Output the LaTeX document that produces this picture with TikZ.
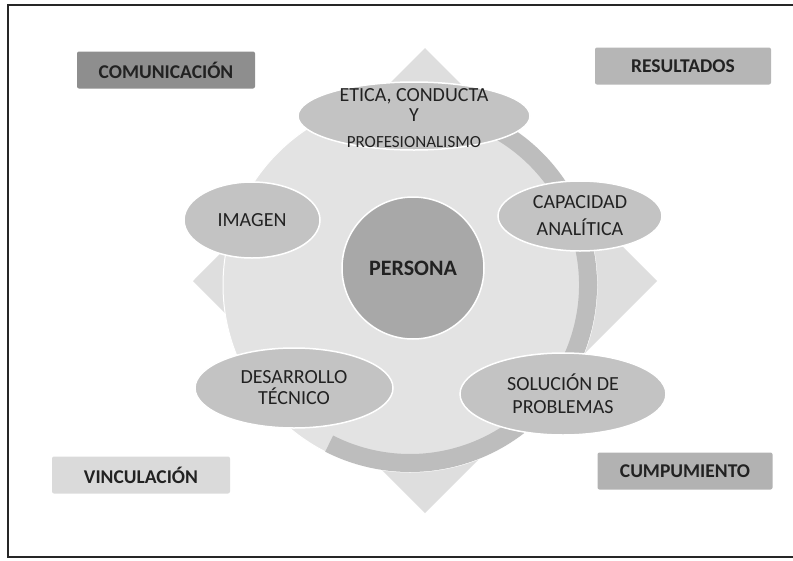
\documentclass[tikz,border=0pt]{standalone}
\usepackage{fontspec}
\setmainfont{Carlito}
\usetikzlibrary{shapes.geometric}
\definecolor{txt}{HTML}{222222}
\definecolor{diam}{HTML}{DEDEDE}
\definecolor{ringband}{HTML}{BDBDBD}
\definecolor{ringdisk}{HTML}{E3E3E3}
\definecolor{ellfill}{HTML}{C3C3C3}
\definecolor{perfill}{HTML}{A8A8A8}
\definecolor{boxA}{HTML}{8E8E8E}
\definecolor{boxB}{HTML}{B6B6B6}
\definecolor{boxC}{HTML}{DADADA}
\definecolor{boxD}{HTML}{B2B2B2}
\tikzset{
  oval/.style={ellipse, fill=ellfill, draw=white, line width=1.5pt, inner sep=0pt, text=txt},
  lbl/.style={text=txt, inner sep=0pt, font=\fontsize{20}{22}\selectfont},
  tag/.style={rectangle, rounded corners=2pt, minimum height=37pt, inner sep=0pt, text=txt, font=\bfseries\fontsize{19.5}{22}\selectfont},
}
\begin{document}
\begin{tikzpicture}[x=1pt,y=-1pt]
\useasboundingbox (0,0) rectangle (793,560);
% frame
\draw[line width=1.8pt, color=black!85] (800,5) -- (8,5) -- (8,557) -- (800,557);
% diamond background
\fill[diam] (425,48) -- (657,281) -- (425,513) -- (193,281) -- cycle;
% ring disk
\node[circle, minimum size=374pt, inner sep=0pt, fill=ringdisk, draw=white, line width=1pt] (ring) at (410,285) {};
% visible part of the ring band (canvas angles, counter-clockwise)
\draw[ringband, line width=18pt] ([shift={(75:178pt)}]ring.center) arc[start angle=75, end angle=-117, radius=178pt];
% center circle
\node[circle, minimum size=142pt, inner sep=0pt, fill=perfill, draw=white, line width=1.5pt, text=txt, font=\bfseries\fontsize{22}{24}\selectfont] (persona) at (413,268) {PERSONA};
% ellipses
\node[oval, minimum width=232pt, minimum height=68pt] (etica) at (414,116) {};
\node[lbl] (etica1) at (414,96) {ETICA, CONDUCTA};
\node[lbl] (etica2) at (414,115) {Y};
\node[lbl, font=\fontsize{17}{19}\selectfont] (etica3) at (414,142) {PROFESIONALISMO};
\node[oval, minimum width=136pt, minimum height=76pt, font=\fontsize{20}{22}\selectfont] (imagen) at (252,220) {IMAGEN};
\node[oval, minimum width=164pt, minimum height=70pt, align=center, font=\fontsize{20}{27}\selectfont] (capacidad) at (580,216) {CAPACIDAD\\ANALÍTICA};
\node[oval, minimum width=198pt, minimum height=80pt, align=center, font=\fontsize{20}{21}\selectfont] (desarrollo) at (294,388) {DESARROLLO\\TÉCNICO};
\node[oval, minimum width=206pt, minimum height=82pt, align=center, font=\fontsize{20}{23}\selectfont] (solucion) at (563,394) {SOLUCIÓN DE\\PROBLEMAS};
% corner tags
\node[tag, fill=boxA, minimum width=178pt] (comunicacion) at (166,70) {COMUNICACIÓN};
\node[tag, fill=boxB, minimum width=176pt] (resultados) at (683,66) {RESULTADOS};
\node[tag, fill=boxC, minimum width=178pt] (vinculacion) at (141,475) {VINCULACIÓN};
\node[tag, fill=boxD, minimum width=175pt] (cumplimiento) at (685,471) {CUMPUMIENTO};
\end{tikzpicture}
\end{document}
